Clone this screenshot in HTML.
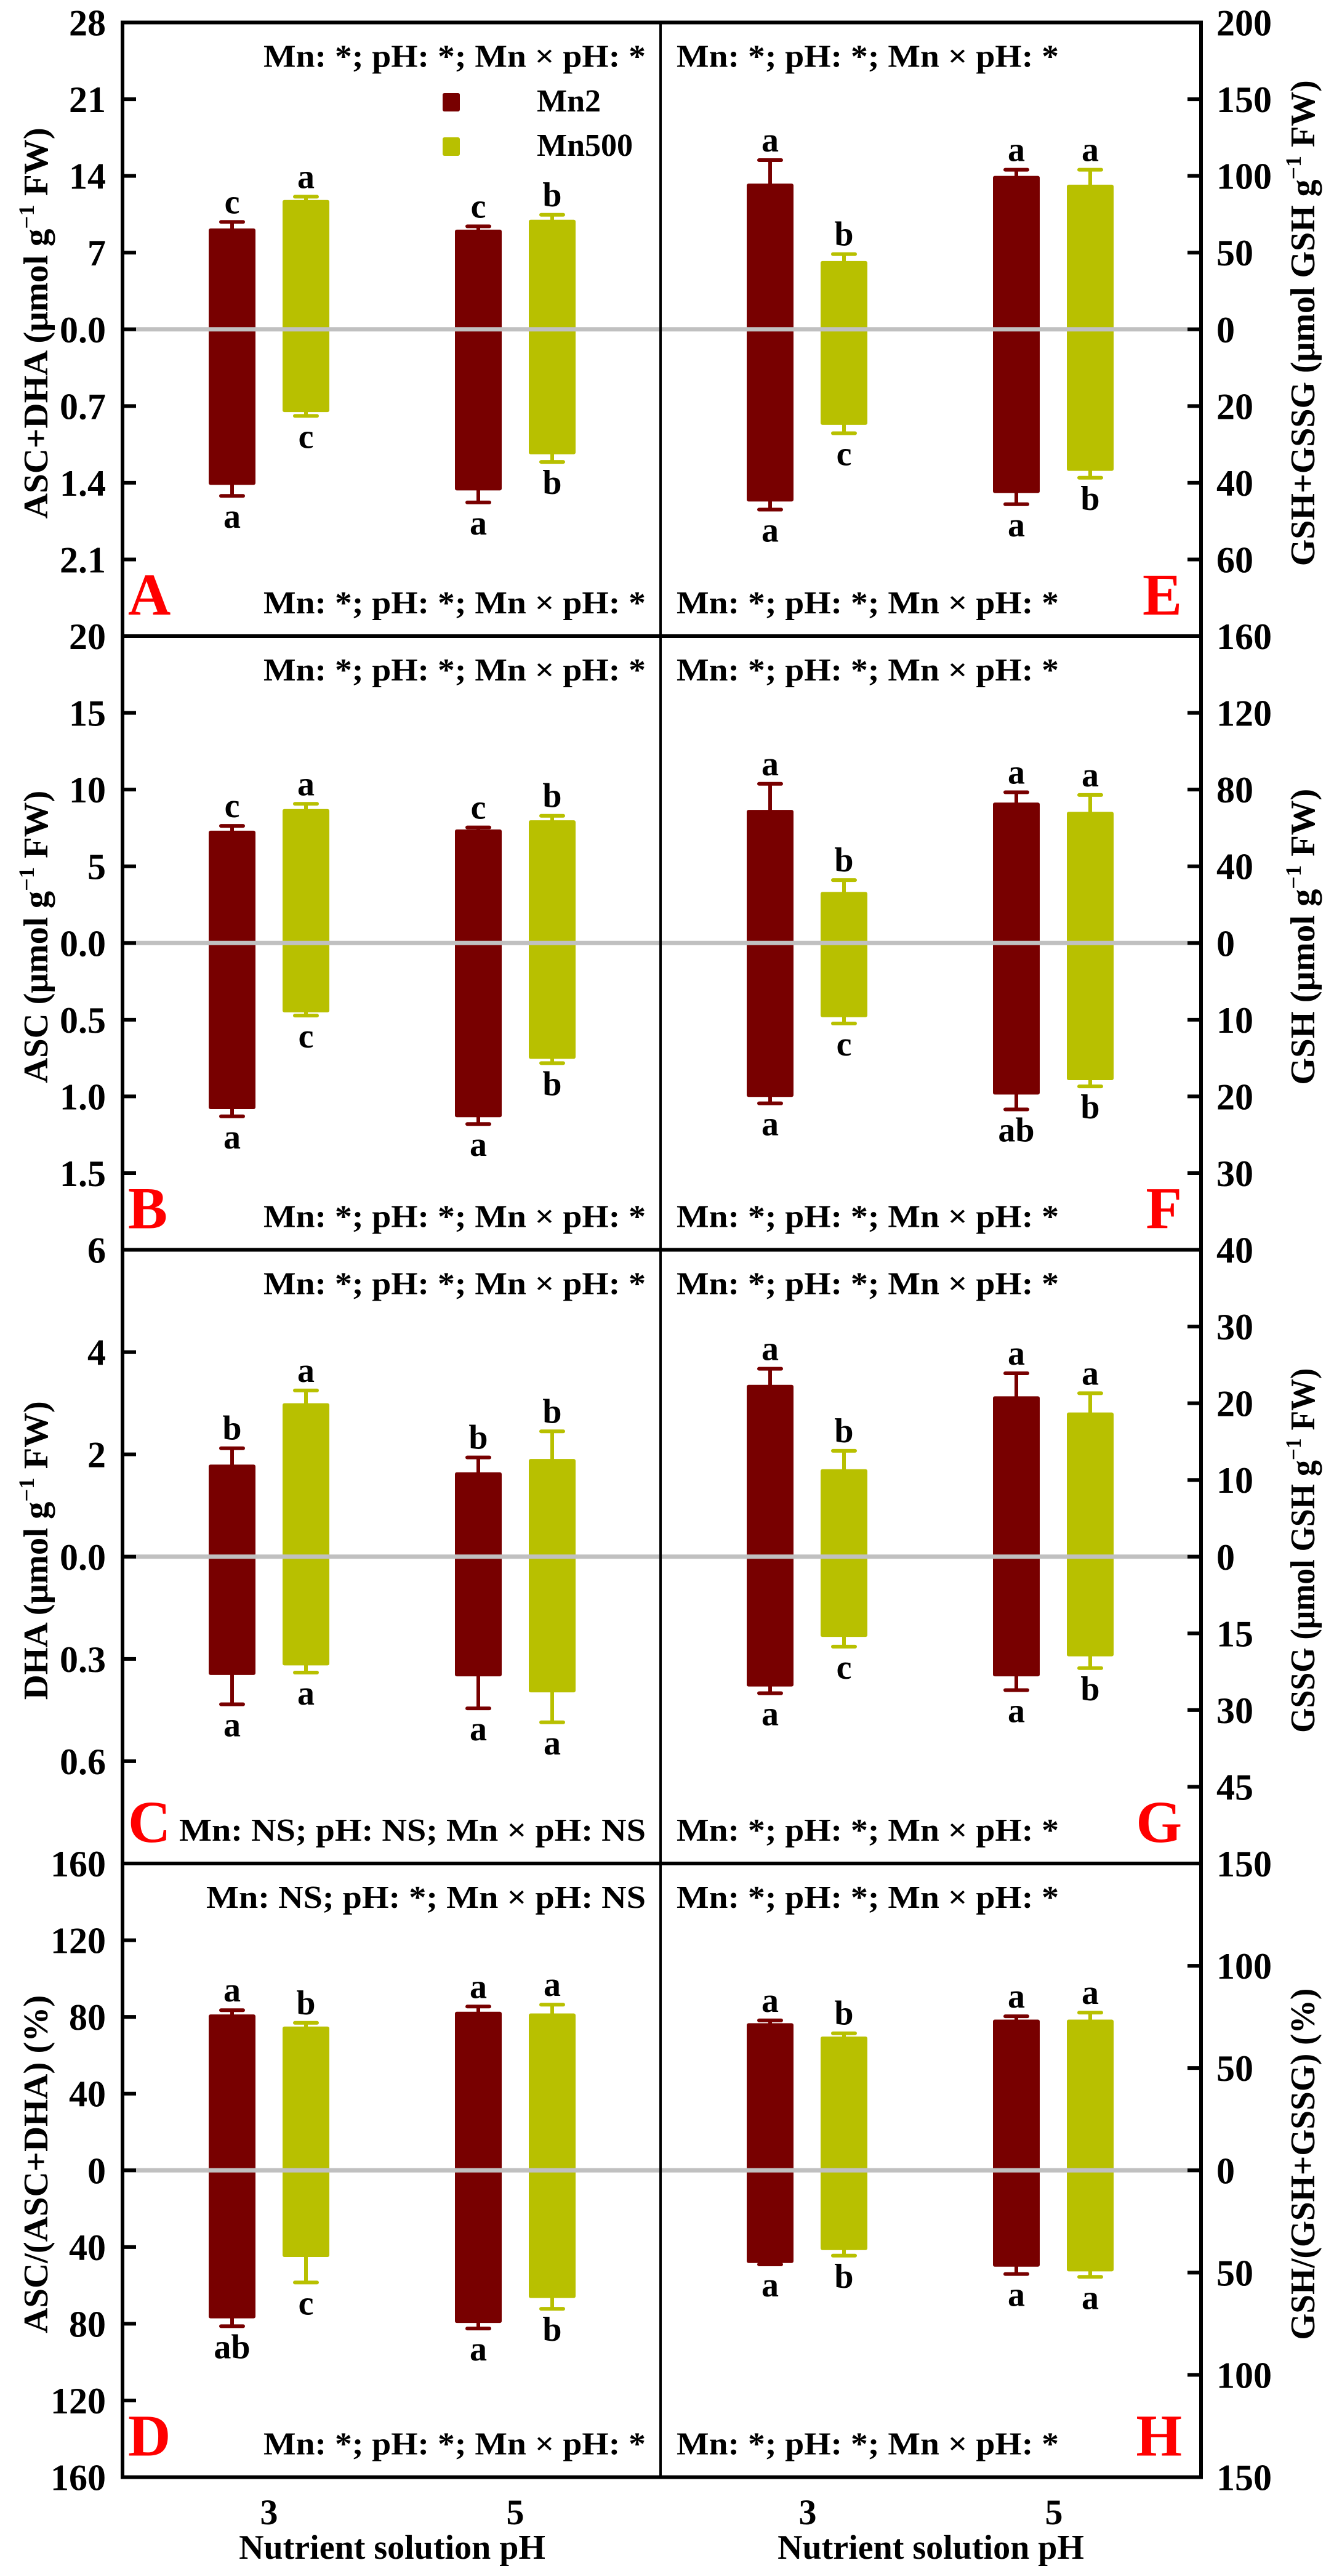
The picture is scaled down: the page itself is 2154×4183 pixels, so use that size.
<!DOCTYPE html>
<html><head><meta charset="utf-8">
<style>
html,body{margin:0;padding:0;background:#fff;}
svg{display:block;font-family:"Liberation Serif","Times New Roman",serif;font-weight:bold;}
svg text{font-family:"Liberation Serif","Times New Roman",serif;font-weight:bold;}
</style></head>
<body>
<svg id="chart" xmlns="http://www.w3.org/2000/svg" width="2154" height="4183" viewBox="0 0 2154 4183" font-family="Liberation Serif, serif" font-weight="bold"></svg>
<script>
const categories = ["3", "5"];
const seriesNames = ["Mn2", "Mn500"];

// Panel A (ASC+DHA)
const aTopMn2 = [9.2, 9.1];      const aTopMn2Err = [0.6, 0.3];
const aTopMn500 = [11.8, 10.0];  const aTopMn500Err = [0.3, 0.45];
const aBotMn2 = [1.42, 1.47];    const aBotMn2Err = [0.10, 0.11];
const aBotMn500 = [0.755, 1.14]; const aBotMn500Err = [0.035, 0.07];
const aLetters = [["c","c"],["a","b"],["a","a"],["c","b"]];
// Panel B (ASC)
const bTopMn2 = [7.32, 7.4];     const bTopMn2Err = [0.31, 0.13];
const bTopMn500 = [8.73, 8.0];   const bTopMn500Err = [0.34, 0.29];
const bBotMn2 = [1.083, 1.136];  const bBotMn2Err = [0.047, 0.044];
const bBotMn500 = [0.452, 0.755];const bBotMn500Err = [0.021, 0.028];
const bLetters = [["c","c"],["a","b"],["a","a"],["c","b"]];
// Panel C (DHA)
const cTopMn2 = [1.80, 1.65];    const cTopMn2Err = [0.32, 0.29];
const cTopMn500 = [3.0, 1.91];   const cTopMn500Err = [0.25, 0.54];
const cBotMn2 = [0.347, 0.351];  const cBotMn2Err = [0.086, 0.094];
const cBotMn500 = [0.319, 0.398];const cBotMn500Err = [0.021, 0.088];
const cLetters = [["b","b"],["a","b"],["a","a"],["a","a"]];
// Panel D (ASC ratio)
const dTopMn2 = [81.3, 82.7];    const dTopMn2Err = [2.2, 2.7];
const dTopMn500 = [75, 81.8];    const dTopMn500Err = [1.9, 4.6];
const dBotMn2 = [77.2, 79.6];    const dBotMn2Err = [4.1, 2.9];
const dBotMn500 = [45.2, 66.6];  const dBotMn500Err = [13.3, 5.6];
const dLetters = [["a","a"],["b","a"],["ab","a"],["c","b"]];
// Panel E (GSH+GSSG)
const eTopMn2 = [95, 100];       const eTopMn2Err = [15.3, 4];
const eTopMn500 = [44.5, 94.3];  const eTopMn500Err = [4.5, 9.7];
const eBotMn2 = [44.9, 42.7];    const eBotMn2Err = [2.1, 2.9];
const eBotMn500 = [24.9, 36.9];  const eBotMn500Err = [2.2, 1.8];
const eLetters = [["a","a"],["b","a"],["a","a"],["c","b"]];
// Panel F (GSH)
const fTopMn2 = [69.4, 73.2];    const fTopMn2Err = [13.6, 5.4];
const fTopMn500 = [26.6, 68.4];  const fTopMn500Err = [6.2, 8.8];
const fBotMn2 = [20.07, 19.76];  const fBotMn2Err = [0.83, 1.94];
const fBotMn500 = [9.67, 17.88]; const fBotMn500Err = [0.83, 0.82];
const fLetters = [["a","a"],["b","a"],["a","ab"],["c","b"]];
// Panel G (GSSG)
const gTopMn2 = [22.4, 20.9];    const gTopMn2Err = [2.1, 3.0];
const gTopMn500 = [11.4, 18.8];  const gTopMn500Err = [2.4, 2.5];
const gBotMn2 = [25.4, 23.4];    const gBotMn2Err = [1.3, 2.7];
const gBotMn500 = [15.7, 19.5];  const gBotMn500Err = [1.9, 2.3];
const gLetters = [["a","a"],["b","a"],["a","a"],["c","b"]];
// Panel H (GSH ratio)
const hTopMn2 = [71.9, 73.7];    const hTopMn2Err = [1.4, 1.6];
const hTopMn500 = [65.4, 73.7];  const hTopMn500Err = [1.6, 3.4];
const hBotMn2 = [45.3, 47.1];    const hBotMn2Err = [0.7, 3.6];
const hBotMn500 = [39, 49.4];    const hBotMn500Err = [2.7, 2.7];
const hLetters = [["a","a"],["b","a"],["a","a"],["b","a"]];

// Axis ticks
const aTopTicks = [28,21,14,7,0];   const aTopTickLabels = ["28","21","14","7","0.0"];
const aBotTicks = [0.7,1.4,2.1];    const aBotTickLabels = ["0.7","1.4","2.1"];
const bTopTicks = [20,15,10,5,0];   const bTopTickLabels = ["20","15","10","5","0.0"];
const bBotTicks = [0.5,1.0,1.5];    const bBotTickLabels = ["0.5","1.0","1.5"];
const cTopTicks = [6,4,2,0];        const cTopTickLabels = ["6","4","2","0.0"];
const cBotTicks = [0.3,0.6];        const cBotTickLabels = ["0.3","0.6"];
const dTopTicks = [160,120,80,40,0];const dTopTickLabels = ["160","120","80","40","0"];
const dBotTicks = [40,80,120,160];  const dBotTickLabels = ["40","80","120","160"];
const eTopTicks = [200,150,100,50,0];const eTopTickLabels = ["200","150","100","50","0"];
const eBotTicks = [20,40,60];       const eBotTickLabels = ["20","40","60"];
const fTopTicks = [160,120,80,40,0];const fTopTickLabels = ["160","120","80","40","0"];
const fBotTicks = [10,20,30];       const fBotTickLabels = ["10","20","30"];
const gTopTicks = [40,30,20,10,0];  const gTopTickLabels = ["40","30","20","10","0"];
const gBotTicks = [15,30,45];       const gBotTickLabels = ["15","30","45"];
const hTopTicks = [150,100,50,0];   const hTopTickLabels = ["150","100","50","0"];
const hBotTicks = [50,100,150];     const hBotTickLabels = ["50","100","150"];

const NS = "http://www.w3.org/2000/svg";
const svg = document.getElementById("chart");
const C_MN2 = "#780000", C_MN500 = "#b8c000";
const L = 199, MID = 1073, R = 1951, TOP0 = 36.5, PH = 996.5, HALF = PH / 2;
const FONT = "Liberation Serif, Times New Roman, serif";

function mk(tag, attrs, parent) {
  const e = document.createElementNS(NS, tag);
  for (const k in attrs) e.setAttribute(k, attrs[k]);
  (parent || svg).appendChild(e);
  return e;
}
function txt(s, attrs, parent) {
  const t = mk("text", Object.assign({"font-family": FONT, "font-weight": "bold"}, attrs), parent);
  t.textContent = s;
  return t;
}

const panels = [
  {id:"A", col:0, row:0, topMax:28, botMax:2.8, tt:aTopTicks, ttl:aTopTickLabels, bt:aBotTicks, btl:aBotTickLabels,
   d:[aTopMn2,aTopMn2Err,aTopMn500,aTopMn500Err,aBotMn2,aBotMn2Err,aBotMn500,aBotMn500Err], let:aLetters,
   title:["ASC+DHA (μmol g","−1"," FW)"], tlen:635, top:"Mn: *; pH: *; Mn × pH: *", bot:"Mn: *; pH: *; Mn × pH: *"},
  {id:"B", col:0, row:1, topMax:20, botMax:2.0, tt:bTopTicks, ttl:bTopTickLabels, bt:bBotTicks, btl:bBotTickLabels,
   d:[bTopMn2,bTopMn2Err,bTopMn500,bTopMn500Err,bBotMn2,bBotMn2Err,bBotMn500,bBotMn500Err], let:bLetters,
   title:["ASC (μmol g","−1"," FW)"], tlen:475, top:"Mn: *; pH: *; Mn × pH: *", bot:"Mn: *; pH: *; Mn × pH: *"},
  {id:"C", col:0, row:2, topMax:6, botMax:0.9, tt:cTopTicks, ttl:cTopTickLabels, bt:cBotTicks, btl:cBotTickLabels,
   d:[cTopMn2,cTopMn2Err,cTopMn500,cTopMn500Err,cBotMn2,cBotMn2Err,cBotMn500,cBotMn500Err], let:cLetters,
   title:["DHA (μmol g","−1"," FW)"], tlen:485, top:"Mn: *; pH: *; Mn × pH: *", bot:"Mn: NS; pH: NS; Mn × pH: NS"},
  {id:"D", col:0, row:3, topMax:160, botMax:160, tt:dTopTicks, ttl:dTopTickLabels, bt:dBotTicks, btl:dBotTickLabels,
   d:[dTopMn2,dTopMn2Err,dTopMn500,dTopMn500Err,dBotMn2,dBotMn2Err,dBotMn500,dBotMn500Err], let:dLetters,
   title:["ASC/(ASC+DHA)  (%)"], tlen:549, top:"Mn: NS; pH: *; Mn × pH: NS", bot:"Mn: *; pH: *; Mn × pH: *"},
  {id:"E", col:1, row:0, topMax:200, botMax:80, tt:eTopTicks, ttl:eTopTickLabels, bt:eBotTicks, btl:eBotTickLabels,
   d:[eTopMn2,eTopMn2Err,eTopMn500,eTopMn500Err,eBotMn2,eBotMn2Err,eBotMn500,eBotMn500Err], let:eLetters,
   title:["GSH+GSSG (μmol GSH g","−1"," FW)"], tlen:789, top:"Mn: *; pH: *; Mn × pH: *", bot:"Mn: *; pH: *; Mn × pH: *"},
  {id:"F", col:1, row:1, topMax:160, botMax:40, tt:fTopTicks, ttl:fTopTickLabels, bt:fBotTicks, btl:fBotTickLabels,
   d:[fTopMn2,fTopMn2Err,fTopMn500,fTopMn500Err,fBotMn2,fBotMn2Err,fBotMn500,fBotMn500Err], let:fLetters,
   title:["GSH (μmol g","−1"," FW)"], tlen:481, top:"Mn: *; pH: *; Mn × pH: *", bot:"Mn: *; pH: *; Mn × pH: *"},
  {id:"G", col:1, row:2, topMax:40, botMax:60, tt:gTopTicks, ttl:gTopTickLabels, bt:gBotTicks, btl:gBotTickLabels,
   d:[gTopMn2,gTopMn2Err,gTopMn500,gTopMn500Err,gBotMn2,gBotMn2Err,gBotMn500,gBotMn500Err], let:gLetters,
   title:["GSSG (μmol GSH g","−1"," FW)"], tlen:592, top:"Mn: *; pH: *; Mn × pH: *", bot:"Mn: *; pH: *; Mn × pH: *"},
  {id:"H", col:1, row:3, topMax:150, botMax:150, tt:hTopTicks, ttl:hTopTickLabels, bt:hBotTicks, btl:hBotTickLabels,
   d:[hTopMn2,hTopMn2Err,hTopMn500,hTopMn500Err,hBotMn2,hBotMn2Err,hBotMn500,hBotMn500Err], let:hLetters,
   title:["GSH/(GSH+GSSG) (%)"], tlen:571, top:"Mn: *; pH: *; Mn × pH: *", bot:"Mn: *; pH: *; Mn × pH: *"}
];

panels.forEach(p => {
  const g = mk("g", {});
  
  
  const T = TOP0 + p.row * PH, Z = T + HALF, B = T + PH;
  const x0 = p.col === 0 ? L : MID;
  const yTop = v => Z - v / p.topMax * HALF;
  const yBot = v => Z + v / p.botMax * HALF;
  const xGroup = i => x0 + 238 + i * 400;
  const offs = [-60, 60], cols = [C_MN2, C_MN500];

  for (let s = 0; s < 2; s++) {
    const topV = p.d[s*2], topE = p.d[s*2+1], botV = p.d[4+s*2], botE = p.d[5+s*2];
    for (let i = 0; i < categories.length; i++) {
      const cx = xGroup(i) + offs[s];
      const yt = yTop(topV[i]), yb = yBot(botV[i]);
      const r = mk("rect", {x: cx-38, y: yt, width: 76, height: yb-yt, fill: cols[s], rx: 3}, g);
      
      
      const ye1 = yTop(topV[i] + topE[i]), ye2 = yBot(botV[i] + botE[i]);
      const eb = mk("path", {d: `M${cx},${yt} V${ye1} M${cx-18},${ye1} H${cx+18} M${cx},${yb} V${ye2} M${cx-18},${ye2} H${cx+18}`,
        stroke: cols[s], "stroke-width": 6, fill: "none", "stroke-linecap": "round"}, g);
      
      
      const l1 = txt(p.let[s][i], {x: cx, y: ye1 - 14, "text-anchor": "middle", "font-size": 56}, g);
      
      
      const l2 = txt(p.let[2+s][i], {x: cx, y: ye2 + 52, "text-anchor": "middle", "font-size": 56}, g);
      
      
    }
  }
  const zl = mk("line", {x1: x0, x2: p.col === 0 ? MID : R, y1: Z, y2: Z, stroke: "#c0c0c0", "stroke-width": 7}, g);
  
  

  const left = p.col === 0;
  const ax = left ? L : R, dir = left ? 1 : -1;
  const tickSets = [[p.tt, p.ttl, yTop], [p.bt, p.btl, yBot]];
  tickSets.forEach(([ticks, labels, f]) => {
    ticks.forEach((v, k) => {
      const y = f(v);
      const atEdge = Math.abs(y - T) < 2 || Math.abs(y - B) < 2;
      if (!atEdge) {
        const tk = mk("line", {x1: ax, x2: ax + dir*22, y1: y, y2: y, stroke: "#000", "stroke-width": 6}, g);
        
        
      }
      if (Math.abs(y - B) < 2 && p.row !== 3) return;
      const lb = txt(labels[k], {x: left ? 172 : 1976, y: y + 21, "text-anchor": left ? "end" : "start", "font-size": 60}, g);
      
      
    });
  });

  const cxT = left ? 58 : 2116, cyT = T + HALF - 10;
  const ti = mk("text", {x: 0, y: 0, transform: `translate(${cxT + 19},${cyT}) rotate(-90)`, "text-anchor": "middle",
    "font-size": 56, "font-family": FONT, "font-weight": "bold", textLength: p.tlen, lengthAdjust: "spacingAndGlyphs"}, g);
  
  
  p.title.forEach((part, k) => {
    const ts = mk("tspan", k === 1 ? {dy: -22, "font-size": 36} : (k === 2 ? {dy: 22} : {}), ti);
    ts.textContent = part;
  });

  const tAttrs = left ? {x: 1049, "text-anchor": "end"} : {x: 1099, "text-anchor": "start"};
  const st = txt(p.top, Object.assign({y: T + 72, "font-size": 52, textLength: p.top.length > 25 ? 714 : 621, lengthAdjust: "spacingAndGlyphs"}, tAttrs), g);
  
  
  const sb = txt(p.bot, Object.assign({y: B - 37, "font-size": 52, textLength: p.bot.length > 26 ? 758 : (p.bot.length > 25 ? 714 : 621), lengthAdjust: "spacingAndGlyphs"}, tAttrs), g);
  
  

  const pl = txt(p.id, left ? {x: 208, y: B - 35, "font-size": 96, fill: "#ff0000"} : {x: 1920, y: B - 35, "font-size": 96, fill: "#ff0000", "text-anchor": "end"}, g);
  
  
});

for (let r = 1; r < 4; r++) {
  const hl = mk("line", {x1: L, x2: R, y1: TOP0 + r*PH, y2: TOP0 + r*PH, stroke: "#000", "stroke-width": 6});
  
  
}
const vd = mk("line", {x1: MID, x2: MID, y1: TOP0, y2: TOP0 + 4*PH, stroke: "#000", "stroke-width": 4});


const fr = mk("rect", {x: L, y: TOP0, width: R - L, height: 4*PH, fill: "none", stroke: "#000", "stroke-width": 6});



const lg = mk("g", {});


[[C_MN2, "Mn2", 151, 181], [C_MN500, "Mn500", 223, 253]].forEach(([c, n, y, by]) => {
  const sw = mk("rect", {x: 719, y: y, width: 28, height: 30, fill: c, rx: 3}, lg);
  
  
  const lt = txt(n, {x: 872, y: by, "font-size": 52}, lg);
  
  
});

[[L, 238], [MID, 239]].forEach(([x0, off]) => {
  categories.forEach((cat, i) => {
    const xl = txt(cat, {x: x0 + off + i*400, y: 4099, "text-anchor": "middle", "font-size": 58});
    
    
  });
  const xt = txt("Nutrient solution pH", {x: x0 + off + 200, y: 4155, "text-anchor": "middle", "font-size": 56});
  
  
});
</script>
</body></html>
